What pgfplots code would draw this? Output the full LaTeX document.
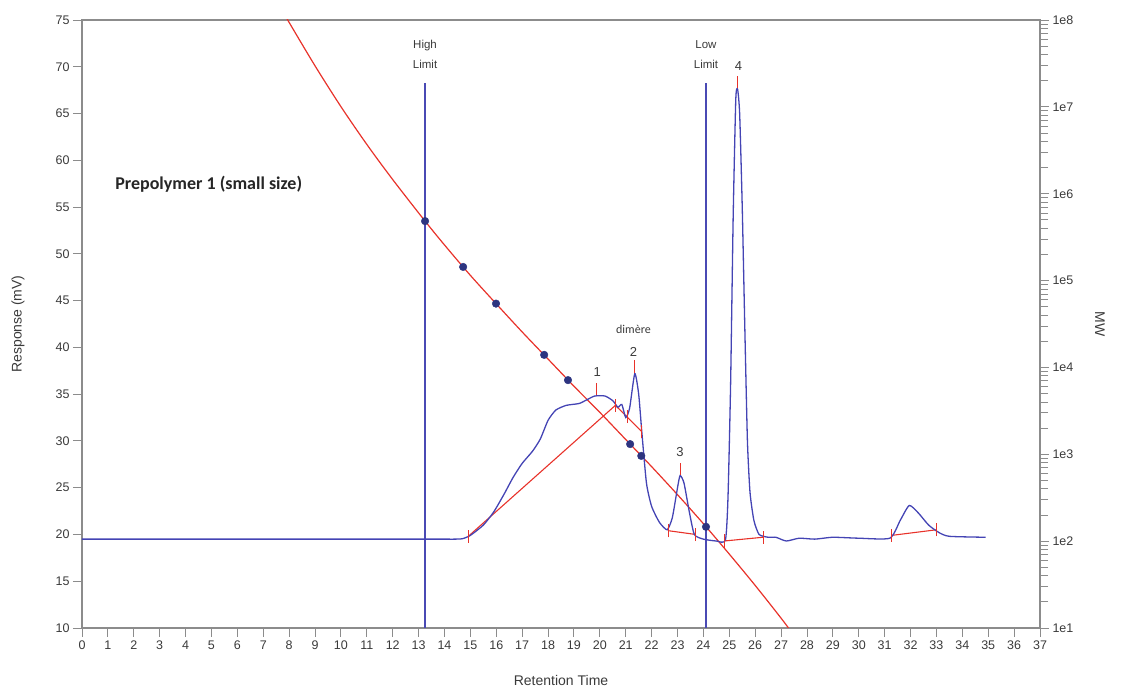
\documentclass[border=0pt]{standalone}
\usepackage{pgfplots}
\pgfplotsset{compat=1.18}
\usepackage{fontspec}
\setmainfont{Liberation Sans}
\newfontfamily\calibri{Carlito}
\definecolor{curveblue}{HTML}{4444B4}
\definecolor{limitblue}{HTML}{4A4AB4}
\definecolor{dotblue}{HTML}{2D3480}
\definecolor{calred}{HTML}{E8322A}
\definecolor{axgray}{HTML}{8C8C8C}
\definecolor{txtgray}{HTML}{3A3A3A}
\begin{document}
\begin{tikzpicture}
\pgfplotsset{
  every axis/.append style={
    scale only axis, width=958pt, height=608pt,
    xmin=0, xmax=37,
    axis line style={axgray, line width=1.3pt},
    every tick/.style={axgray, line width=0.9pt},
    major tick length=9pt, minor tick length=8pt,
    tick align=outside,
    /pgf/number format/assume math mode=true,
    tick label style={font=\fontsize{12.5}{14}\selectfont, text=txtgray},
    label style={font=\fontsize{14}{16}\selectfont, text=txtgray},
  }
}
\begin{axis}[name=ax,
  ymin=10, ymax=75,
  xtick={0,...,37}, ytick={10,15,...,75},
  xtick pos=bottom, ytick pos=left,
  xlabel={Retention Time}, ylabel={Response (mV)},
  xlabel style={at={([yshift=-52pt]axis description cs:0.5,0)}, anchor=center},
  ylabel style={at={([xshift=-64pt]axis description cs:0,0.5)}, anchor=center},
  unbounded coords=jump, clip=true,
]
% limit lines
\addplot[limitblue, line width=1.25pt] coordinates {(13.25,10) (13.25,68.3)};
\addplot[limitblue, line width=1.25pt] coordinates {(24.1,10) (24.1,68.3)};
% calibration curve
\addplot[calred, line width=1.2pt, smooth] coordinates {
 (7.95,75) (8,74.74) (9,70.1) (10,65.74) (11,61.7) (12,57.94) (13.25,53.5)
 (14,50.95) (15,47.7) (16,44.65) (17,41.65) (18,38.75) (19,35.85) (20,33.05)
 (21,30.15) (22,27.25) (23,24.25) (24,21.15) (25,17.9) (26,14.55) (27,11.05) (27.5,9.2)};
% integration baselines
\addplot[calred, line width=1.1pt] coordinates {
 (14.92,19.8) (20.6,33.8) (21.62,31.0) (nan,nan)
 (22.65,20.4) (23.7,20.0) (nan,nan)
 (24.8,19.3) (26.3,19.7) (nan,nan)
 (31.27,19.9) (33.0,20.5)};
% chromatogram
\addplot[curveblue, line width=1.3pt, smooth, tension=0.35] coordinates {
 (0,19.5) (4,19.5) (8,19.5) (11,19.5) (13,19.5) (14,19.5) (14.4,19.5) (14.7,19.55)
 (15.0,19.9) (15.5,21.0) (15.9,22.4) (16.3,24.3) (16.65,26.1)
 (17.0,27.6) (17.4,28.9) (17.7,30.2) (18.0,32.2) (18.3,33.3) (18.7,33.8) (19.2,34.0)
 (19.5,34.4) (19.8,34.8) (20.2,34.8) (20.5,34.3) (20.7,33.6) (20.85,33.9) (21.0,32.5)
 (21.15,33.5) (21.35,37.2) (21.5,35.0) (21.62,31.0) (21.8,25.5) (22.0,23.0) (22.3,21.3)
 (22.6,20.5) (22.8,21.8) (23.0,25.0) (23.1,26.3) (23.25,25.5) (23.45,22.5) (23.65,20.0)
 (24.0,19.5) (24.5,19.3) (24.85,19.4) (24.95,24) (25.05,36) (25.15,54) (25.25,66.5)
 (25.32,67.6) (25.4,65) (25.5,55) (25.6,42) (25.7,30) (25.8,24.5) (25.95,21.5)
 (26.15,20.0) (26.5,19.7) (26.8,19.7) (27.2,19.3) (27.7,19.6)
 (28.3,19.5) (29.0,19.7) (30.0,19.6) (31.2,19.6) (31.6,21.5) (31.95,23.1) (32.3,22.3)
 (32.7,21.0) (33.1,20.2) (33.5,19.8) (34.9,19.7)};
% peak boundary and apex ticks
\addplot[calred, line width=0.9pt] coordinates {
 (14.92,19.1) (14.92,20.5) (nan,nan)
 (20.6,33.1) (20.6,34.5) (nan,nan)
 (21.05,31.9) (21.05,33.3) (nan,nan)
 (21.62,30.3) (21.62,31.7) (nan,nan)
 (22.65,19.7) (22.65,21.1) (nan,nan)
 (23.7,19.3) (23.7,20.7) (nan,nan)
 (24.8,18.6) (24.8,20.0) (nan,nan)
 (26.3,19.0) (26.3,20.4) (nan,nan)
 (31.27,19.2) (31.27,20.6) (nan,nan)
 (33.0,19.8) (33.0,21.2) (nan,nan)
 (19.85,34.9) (19.85,36.2) (nan,nan)
 (21.35,37.3) (21.35,38.6) (nan,nan)
 (23.1,26.4) (23.1,27.6) (nan,nan)
 (25.32,67.7) (25.32,69.0)};
% calibration points
\addplot[only marks, mark=*, mark size=3.8pt, dotblue] coordinates {
 (13.25,53.5) (14.72,48.6) (15.99,44.68) (17.85,39.2) (18.77,36.5)
 (21.17,29.66) (21.6,28.4) (24.1,20.82)};
% annotations
\node[anchor=west, font=\calibri\bfseries\fontsize{18}{20}\selectfont, text=black!85] at (axis cs:1.15,57.4) {Prepolymer 1 (small size)};
\node[align=center, font=\fontsize{11.5}{20}\selectfont, text=txtgray] at (axis cs:13.25,71.3) {High\\Limit};
\node[align=center, font=\fontsize{11.5}{20}\selectfont, text=txtgray] at (axis cs:24.1,71.3) {Low\\Limit};
\node[font=\fontsize{13}{15}\selectfont, text=txtgray] at (axis cs:19.9,37.4) {1};
\node[font=\fontsize{13}{15}\selectfont, text=txtgray] at (axis cs:21.3,39.5) {2};
\node[font=\calibri\fontsize{12}{14}\selectfont, text=txtgray] at (axis cs:21.3,41.9) {dimère};
\node[font=\fontsize{13}{15}\selectfont, text=txtgray] at (axis cs:23.1,28.8) {3};
\node[font=\fontsize{13}{15}\selectfont, text=txtgray] at (axis cs:25.35,70.1) {4};
\end{axis}
\begin{axis}[
  ymode=log, ymin=10, ymax=1e8,
  axis x line=none, axis y line*=right,
  ytick={1e1,1e2,1e3,1e4,1e5,1e6,1e7,1e8},
  yticklabels={1e1,1e2,1e3,1e4,1e5,1e6,1e7,1e8},
  ylabel={MW},
  ylabel style={at={([xshift=60pt]axis description cs:1,0.5)}, anchor=center, rotate=180},
]
\addplot[draw=none] coordinates {(0,100) (37,100)};
\end{axis}
\pgfresetboundingbox
\path[use as bounding box] ([xshift=-82pt,yshift=-62pt]ax.south west) rectangle ([xshift=85pt,yshift=20pt]ax.north east);
\end{tikzpicture}
\end{document}
